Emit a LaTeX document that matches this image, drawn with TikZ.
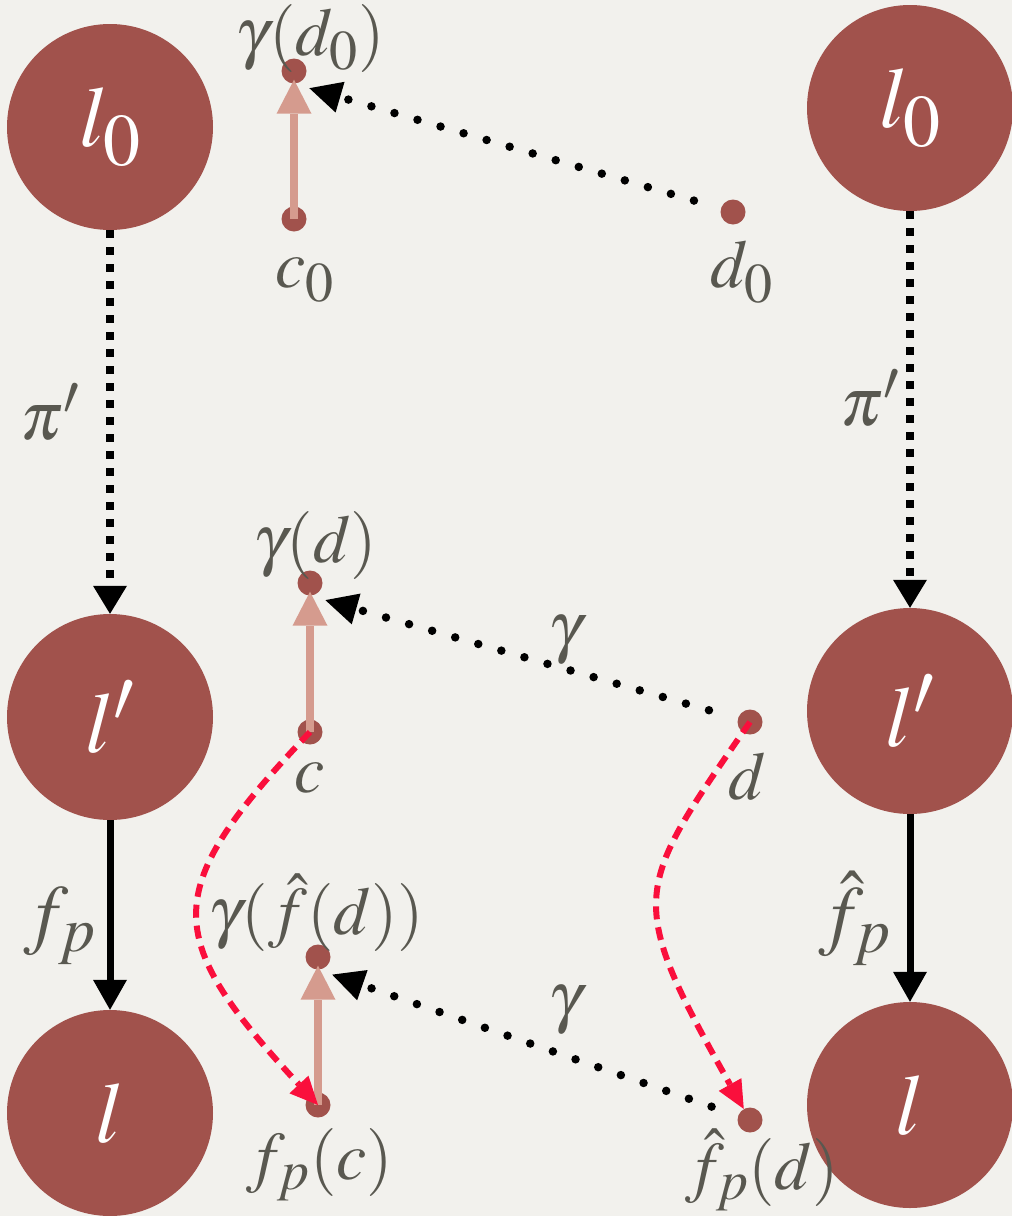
\documentclass[tikz,border=0pt]{standalone}
\usepackage{mathptmx}
\usetikzlibrary{arrows.meta}
\DeclareMathSizes{68}{68}{56}{44}
\DeclareMathSizes{78}{78}{64}{50}
\DeclareMathSizes{86}{86}{74}{60}
\definecolor{bgc}{HTML}{F2F1ED}
\definecolor{circ}{HTML}{A1524C}
\definecolor{pinkc}{HTML}{D59B8E}
\definecolor{redc}{HTML}{FA0F3C}
\definecolor{labc}{HTML}{595850}
\begin{document}
\begin{tikzpicture}[x=1pt,y=-1pt,
  big/.style={circle, fill=circ, minimum size=206pt, inner sep=0pt, text=white, font=\fontsize{86}{94}\selectfont},
  dot/.style={circle, fill=circ, minimum size=25pt, inner sep=0pt},
  lab/.style={text=labc, font=\fontsize{68}{76}\selectfont, inner sep=0pt},
  biglab/.style={text=labc, font=\fontsize{78}{86}\selectfont, inner sep=0pt},
  piarrow/.style={line width=8pt, dash pattern=on 8pt off 9pt, -{Triangle[length=28pt,width=34pt,line width=0pt]}},
  farrow/.style={line width=7pt, -{Triangle[length=30pt,width=34pt,line width=0pt]}},
  pinkarrow/.style={draw=pinkc, line width=8pt, -{Triangle[length=34pt,width=35pt,line width=0pt]}},
  garrow/.style={line width=8.5pt, line cap=round, dash pattern=on 0pt off 24pt, -{Triangle[length=32pt,width=32pt,line width=0pt]}},
  redarrow/.style={draw=redc, line width=6pt, dash pattern=on 13pt off 8pt, -{Triangle[length=28pt,width=26pt,line width=0pt]}}]
\fill[bgc] (0,0) rectangle (1012,1216);
\useasboundingbox (0,0) rectangle (1012,1216);

% big circles
\node[big] (l0L) at (110,127) {$l_0$};
\node[big] (lpL) at (110,717) {$l'$};
\node[big] (lL) at (110,1113) {$l$};
\node[big] (l0R) at (910,108) {$l_0$};
\node[big] (lpR) at (910,711) {$l'$};
\node[big] (lR) at (910,1105) {$l$};

% small dots
\node[dot] (gd0) at (294,71) {};
\node[dot] (c0) at (294,219) {};
\node[dot] (d0) at (733,212) {};
\node[dot] (gd) at (310,583) {};
\node[dot] (c) at (310,732) {};
\node[dot] (d) at (750,722) {};
\node[dot] (gfd) at (318,957) {};
\node[dot] (fpc) at (318,1105) {};
\node[dot] (fpd) at (750,1120) {};

% labels
\node[lab] (tgd0) at (310,38) {$\gamma(d_0)$};
\node[lab] (tc0) at (305,280) {$c_0$};
\node[lab] (td0) at (742,272) {$d_0$};
\node[lab] (tgd) at (315,545) {$\gamma(d)$};
\node[lab] (tc) at (310,778) {$c$};
\node[lab] (td) at (747,776) {$d$};
\node[lab] (tgfd) at (316,913) {$\gamma(\hat f(d))$};
\node[lab] (tfpc) at (320,1165) {$f_p(c)$};
\node[lab] (tfpd) at (762,1170) {$\hat f_p(d)$};
\node[lab] (tpiL) at (50,412) {$\pi'$};
\node[lab] (tpiR) at (870,398) {$\pi'$};
\node[biglab] (tfL) at (60,926) {$f_p$};
\node[biglab] (tfR) at (855,918) {$\hat f_p$};
\node[lab] (tg1) at (565,640) {$\gamma$};
\node[lab] (tg2) at (565,1010) {$\gamma$};

% vertical arrows
\draw[piarrow] (l0L) -- (lpL);
\draw[piarrow] (l0R) -- (lpR);
\draw[farrow] (lpL) -- (lL);
\draw[farrow] (lpR) -- (lR);

% gamma dotted arrows
\draw[garrow, shorten <=28pt, shorten >=16pt] (d0) -- (gd0.south);
\draw[garrow, shorten <=30pt, shorten >=16pt] (d) -- (gd.south);
\draw[garrow, shorten <=28pt, shorten >=15pt] (fpd) -- (gfd.south);

% pink arrows
\draw[pinkarrow, shorten >=-4pt] (c0.center) -- (gd0.south);
\draw[pinkarrow, shorten >=-4pt] (c.center) -- (gd.south);
\draw[pinkarrow, shorten >=-4pt] (fpc.center) -- (gfd.south);

% red dashed curves
\draw[redarrow] (c.center) .. controls (160,890) and (160,935) .. (fpc.center);
\draw[redarrow] (d.center) .. controls (633,891) and (624,896) .. (fpd);
\end{tikzpicture}
\end{document}
